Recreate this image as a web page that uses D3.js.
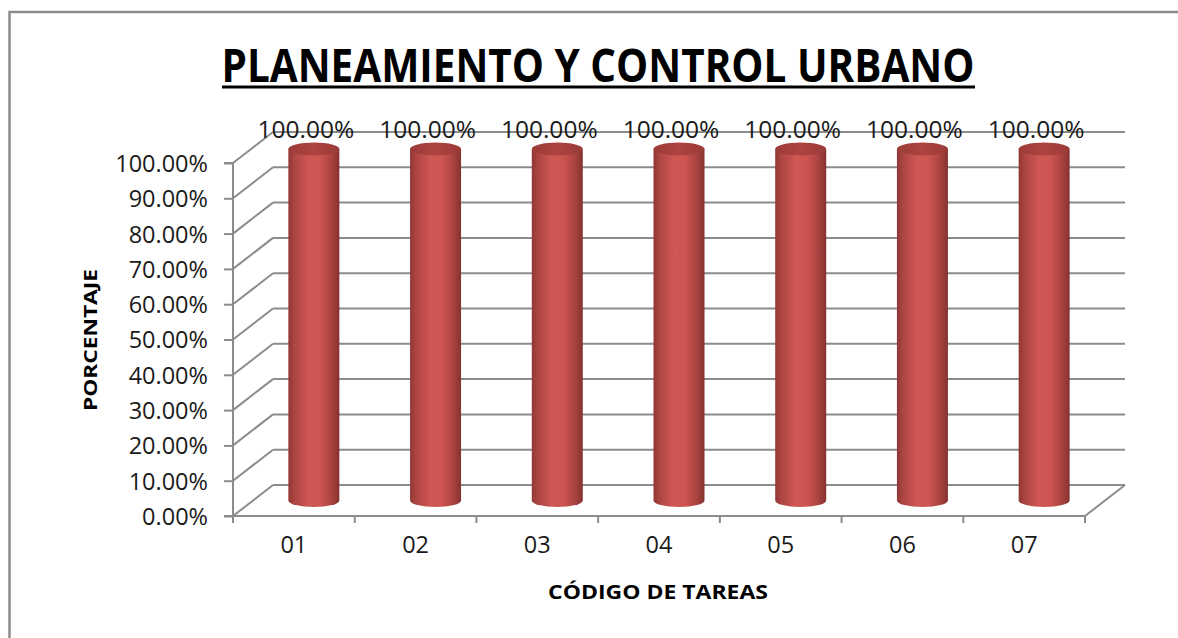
<!DOCTYPE html>
<html>
<head>
<meta charset="utf-8">
<script src="https://cdn.jsdelivr.net/npm/d3@7"></script>
<style>
  html, body { margin: 0; padding: 0; background: #fff; }
  svg { display: block; }
  text { font-family: "Open Sans", "Liberation Sans", sans-serif; fill: #1a1a1a; }
</style>
</head>
<body>
<svg id="chart" width="1178" height="638"></svg>
<script>
// Task codes and their completion percentages
const categories = ["01", "02", "03", "04", "05", "06", "07"];
const values = [100, 100, 100, 100, 100, 100, 100];
const yTicks = [0, 10, 20, 30, 40, 50, 60, 70, 80, 90, 100];
const chartTitle = "PLANEAMIENTO Y CONTROL URBANO";
const yTitle = "PORCENTAJE";
const xTitle = "CÓDIGO DE TAREAS";

const svg = d3.select("#chart");
const W = 1178, H = 638;

// outer frame (extends past right and bottom edges)
svg.append("path")
  .attr("d", `M${W + 5},12 L9.5,12 L9.5,${H + 5}`)
  .attr("fill", "none").attr("stroke", "#8c8c8c").attr("stroke-width", 2.5);

// plot geometry: front plane plus depth offset for the 3D walls
const x = d3.scaleBand().domain(categories).range([233, 1085]);
const y = d3.scaleLinear().domain([0, 100]).range([516, 163]);
const dx = 40, dy = -31;
const fmt = d => d3.format(".2f")(d) + "%";

const grid = svg.append("g").attr("stroke", "#8c8c8c").attr("stroke-width", 2).attr("fill", "none");

// back wall gridlines and side wall diagonals
yTicks.forEach(t => {
  grid.append("line")
    .attr("x1", x.range()[0] + dx).attr("x2", x.range()[1] + dx)
    .attr("y1", y(t) + dy).attr("y2", y(t) + dy);
  grid.append("line")
    .attr("x1", x.range()[0]).attr("x2", x.range()[0] + dx)
    .attr("y1", y(t)).attr("y2", y(t) + dy);
});

// floor: front edge and right diagonal
grid.append("path")
  .attr("d", `M${x.range()[0]},${y(0)} L${x.range()[1]},${y(0)} L${x.range()[1] + dx},${y(0) + dy}`);

// vertical axis with ticks
const yAxis = d3.axisLeft(y).tickValues(yTicks).tickFormat(fmt).tickSize(9).tickPadding(16);
const gy = svg.append("g").attr("transform", `translate(${x.range()[0]},0)`).call(yAxis);
gy.select(".domain").attr("stroke", "#8c8c8c").attr("stroke-width", 2).attr("d", `M-9,${y(0)}H0V${y(100)}H-9`);
gy.selectAll(".tick line").attr("stroke", "#8c8c8c").attr("stroke-width", 2);
gy.selectAll(".tick text").attr("font-size", 23.5).attr("fill", "#1a1a1a")
  .attr("font-family", "'Open Sans', sans-serif").attr("dy", "0.36em");

// horizontal axis ticks at category boundaries
const xAxis = d3.axisBottom(x).tickSize(0).tickPadding(20);
const gx = svg.append("g").attr("transform", `translate(0,${y(0)})`).call(xAxis);
gx.select(".domain").remove();
gx.selectAll(".tick text").attr("font-size", 23.5).attr("fill", "#1a1a1a")
  .attr("font-family", "'Open Sans', sans-serif");
const bounds = categories.map(c => x(c)).concat([x.range()[1]]);
svg.append("g").selectAll("line").data(bounds).join("line")
  .attr("x1", d => d).attr("x2", d => d)
  .attr("y1", y(0)).attr("y2", y(0) + 7)
  .attr("stroke", "#8c8c8c").attr("stroke-width", 2);

// cylinder gradients
const defs = svg.append("defs");
const bodyGrad = defs.append("linearGradient").attr("id", "cylBody")
  .attr("x1", "0%").attr("x2", "100%").attr("y1", "0%").attr("y2", "0%");
[["0%", "#8f3734"], ["12%", "#ad4542"], ["40%", "#cf5754"], ["62%", "#cd5551"], ["85%", "#a9423f"], ["100%", "#853230"]]
  .forEach(([o, c]) => bodyGrad.append("stop").attr("offset", o).attr("stop-color", c));
const capGrad = defs.append("linearGradient").attr("id", "cylTop")
  .attr("x1", "0%").attr("x2", "100%").attr("y1", "0%").attr("y2", "0%");
[["0%", "#9c3b38"], ["50%", "#ad4441"], ["100%", "#9a3a37"]]
  .forEach(([o, c]) => capGrad.append("stop").attr("offset", o).attr("stop-color", c));

// cylinders, placed at mid depth
const rx = 25.5, ry = 6.5;
const bars = svg.append("g").selectAll("g").data(categories.map((c, i) => ({ c, v: values[i] }))).join("g");
bars.each(function(d) {
  const g = d3.select(this);
  const cx = x(d.c) + x.bandwidth() / 2 + dx / 2;
  const yb = y(0) + dy / 2;
  const yt = y(d.v) + dy / 2 + 1.5;
  g.append("path")
    .attr("d", `M${cx - rx},${yt} L${cx - rx},${yb} A${rx},${ry} 0 0 0 ${cx + rx},${yb} L${cx + rx},${yt} Z`)
    .attr("fill", "url(#cylBody)");
  g.append("ellipse")
    .attr("cx", cx).attr("cy", yt).attr("rx", rx).attr("ry", ry)
    .attr("fill", "url(#cylTop)");
});

// value labels above each cylinder
svg.append("g").selectAll("text").data(categories.map((c, i) => ({ c, v: values[i] }))).join("text")
  .attr("x", d => x(d.c) + x.bandwidth() / 2 + 12).attr("y", d => y(d.v) + dy + 6)
  .attr("text-anchor", "middle").attr("font-size", 24.5).text(d => fmt(d.v));

// titles
svg.append("text")
  .attr("x", 598).attr("y", 82).attr("text-anchor", "middle")
  .attr("font-size", 46).attr("font-weight", "bold")
  .attr("textLength", 753).attr("lengthAdjust", "spacingAndGlyphs")
  .style("fill", "#000").text(chartTitle);
svg.append("line").attr("x1", 222).attr("x2", 975).attr("y1", 87).attr("y2", 87)
  .attr("stroke", "#000").attr("stroke-width", 3);

svg.append("text")
  .attr("transform", `translate(97,340) rotate(-90)`)
  .attr("text-anchor", "middle").attr("font-size", 18).attr("font-weight", "bold")
  .attr("textLength", 142).attr("lengthAdjust", "spacingAndGlyphs")
  .style("fill", "#000").text(yTitle);

svg.append("text")
  .attr("x", 658).attr("y", 599).attr("text-anchor", "middle")
  .attr("font-size", 19).attr("font-weight", "bold")
  .attr("textLength", 220).attr("lengthAdjust", "spacingAndGlyphs")
  .style("fill", "#000").text(xTitle);
</script>
</body>
</html>
